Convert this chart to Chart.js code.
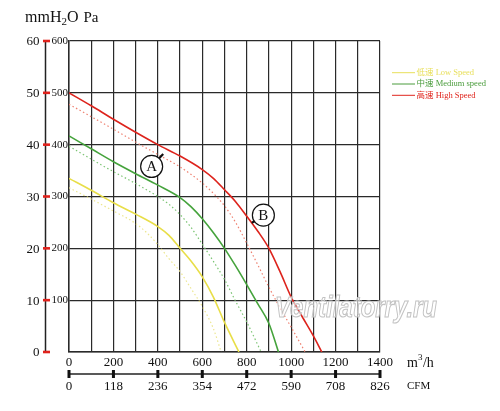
<!DOCTYPE html>
<html>
<head>
<meta charset="utf-8">
<script src="https://cdn.jsdelivr.net/npm/chart.js@4.4.0/dist/chart.umd.min.js"></script>
<style>
body{margin:0;background:#fff;}
#wrap{width:500px;height:411px;position:relative;}
</style>
</head>
<body>
<div id="wrap"><canvas id="chart"></canvas></div>
<script>
// tick labels
var flowTicks = [0, 200, 400, 600, 800, 1000, 1200, 1400];
var cfmTicks = ['0', '118', '236', '354', '472', '590', '708', '826'];
var paTicks = [0, 100, 200, 300, 400, 500, 600];
var paLabels = ['', '100', '200', '300', '400', '500', '600'];
var mmTicks = ['0', '10', '20', '30', '40', '50', '60'];

// high speed
var highFlow = [0, 100, 200, 300, 400, 500, 600, 650, 700, 750, 800, 850, 900, 950, 1000, 1050, 1100, 1138];
var highPa   = [500, 475, 449, 424, 400, 378, 352, 335, 313, 290, 262, 233, 200, 155, 106, 68, 31, 0];
var highDotFlow = [0, 100, 200, 300, 400, 500, 600, 650, 700, 750, 800, 850, 900, 950, 1000, 1063];
var highDotPa   = [478, 454, 430, 405, 381, 357, 326, 306, 282, 250, 210, 168, 125, 85, 48, 0];

// medium speed
var medFlow = [0, 100, 200, 300, 400, 500, 550, 600, 650, 700, 750, 800, 850, 900, 943];
var medPa   = [417, 392, 367, 344, 322, 298, 280, 257, 230, 200, 166, 130, 93, 55, 0];
var medDotFlow = [0, 100, 200, 300, 400, 450, 500, 550, 600, 650, 700, 750, 800, 865];
var medDotPa   = [397, 372, 348, 325, 300, 285, 265, 240, 208, 175, 140, 98, 58, 0];

// low speed
var lowFlow = [0, 100, 200, 300, 400, 450, 500, 550, 600, 650, 700, 765];
var lowPa   = [335, 312, 288, 266, 242, 225, 200, 175, 145, 106, 57, 0];
var lowDotFlow = [0, 100, 200, 300, 350, 400, 450, 500, 550, 600, 650, 685];
var lowDotPa   = [317, 295, 272, 248, 230, 207, 180, 155, 122, 88, 45, 0];

var legendNames = ['低速 Low Speed', '中速 Medium speed', '高速 High Speed'];
var legendColors = ['#e8df5a', '#4a9c3c', '#e0261e'];

var serif = "'Liberation Serif', 'Noto Sans CJK SC', serif";

function pts(xs, ys) {
  var out = [];
  for (var i = 0; i < xs.length; i++) out.push({x: xs[i], y: ys[i]});
  return out;
}

function curve(xs, ys, color, dotted) {
  return {
    data: pts(xs, ys),
    borderColor: color,
    borderWidth: dotted ? 1.2 : 1.6,
    borderDash: dotted ? [1.5, 2.5] : [],
    pointRadius: 0,
    fill: false,
    cubicInterpolationMode: 'monotone'
  };
}

var extras = {
  id: 'extras',
  afterDraw: function (chart) {
    var ctx = chart.ctx;
    var xs = chart.scales.x, ys = chart.scales.y;
    var i, px, py;
    ctx.save();

    // title
    ctx.fillStyle = '#111';
    ctx.textBaseline = 'alphabetic';
    ctx.textAlign = 'left';
    ctx.font = '16px ' + serif;
    var tx = 25;
    ctx.fillText('mmH', tx, 22); tx += ctx.measureText('mmH').width;
    ctx.font = '11px ' + serif;
    ctx.fillText('2', tx, 25); tx += ctx.measureText('2').width;
    ctx.font = '16px ' + serif;
    ctx.fillText('O', tx, 22); tx += ctx.measureText('O ').width + 1;
    ctx.font = '15px ' + serif;
    ctx.fillText('Pa', tx, 22);

    // mmH2O axis
    ctx.strokeStyle = '#222';
    ctx.lineWidth = 1.5;
    ctx.beginPath();
    ctx.moveTo(45.5, ys.getPixelForValue(600));
    ctx.lineTo(45.5, ys.getPixelForValue(0) + 1);
    ctx.stroke();
    ctx.strokeStyle = '#e0221c';
    ctx.lineWidth = 2.6;
    ctx.font = '13px ' + serif;
    ctx.fillStyle = '#111';
    ctx.textAlign = 'right';
    ctx.textBaseline = 'middle';
    for (i = 0; i < paTicks.length; i++) {
      py = ys.getPixelForValue(paTicks[i]);
      ctx.beginPath();
      ctx.moveTo(43, py);
      ctx.lineTo(50, py);
      ctx.stroke();
      ctx.fillText(mmTicks[i], 39.5, py + 1);
    }

    // CFM axis
    var cy = 374;
    ctx.strokeStyle = '#222';
    ctx.lineWidth = 1.5;
    ctx.beginPath();
    ctx.moveTo(xs.getPixelForValue(0) - 1, cy);
    ctx.lineTo(xs.getPixelForValue(1400) + 1, cy);
    ctx.stroke();
    ctx.fillStyle = '#111';
    ctx.textAlign = 'center';
    ctx.textBaseline = 'middle';
    ctx.font = '13px ' + serif;
    for (i = 0; i < flowTicks.length; i++) {
      px = xs.getPixelForValue(flowTicks[i]);
      ctx.fillRect(px - 1.5, cy - 4, 3, 8);
      ctx.fillText(cfmTicks[i], px, cy + 13);
    }

    // unit labels
    ctx.textAlign = 'left';
    ctx.textBaseline = 'alphabetic';
    ctx.font = '14px ' + serif;
    ctx.fillText('m', 407, 367);
    var mw = ctx.measureText('m').width;
    ctx.font = '9px ' + serif;
    ctx.fillText('3', 407 + mw, 360);
    ctx.font = '14px ' + serif;
    ctx.fillText('/h', 407 + mw + 5, 367);
    ctx.font = '11px ' + serif;
    ctx.fillText('CFM', 407, 389);

    // legend
    ctx.font = '8.5px ' + serif;
    ctx.textBaseline = 'middle';
    for (i = 0; i < legendNames.length; i++) {
      py = 72.7 + i * 11.3;
      ctx.strokeStyle = legendColors[i];
      ctx.lineWidth = 1;
      ctx.beginPath();
      ctx.moveTo(392, py);
      ctx.lineTo(415, py);
      ctx.stroke();
      ctx.fillStyle = legendColors[i];
      ctx.fillText(legendNames[i], 416.5, py);
    }

    // markers A and B
    var marks = [
      {label: 'A', x: 372, y: 358, tx: 424, ty: 382},
      {label: 'B', x: 875, y: 264, tx: 823, ty: 249}
    ];
    for (i = 0; i < marks.length; i++) {
      var m = marks[i];
      var mx = xs.getPixelForValue(m.x), my = ys.getPixelForValue(m.y);
      var tpx = xs.getPixelForValue(m.tx), tpy = ys.getPixelForValue(m.ty);
      var ang = Math.atan2(tpy - my, tpx - mx);
      ctx.strokeStyle = '#111';
      ctx.lineWidth = 2.2;
      ctx.beginPath();
      ctx.moveTo(mx + Math.cos(ang) * 10, my + Math.sin(ang) * 10);
      ctx.lineTo(tpx, tpy);
      ctx.stroke();
      ctx.beginPath();
      ctx.arc(mx, my, 11, 0, Math.PI * 2);
      ctx.fillStyle = '#fff';
      ctx.fill();
      ctx.lineWidth = 1.2;
      ctx.stroke();
      ctx.fillStyle = '#111';
      ctx.font = '15px ' + serif;
      ctx.textAlign = 'center';
      ctx.textBaseline = 'middle';
      ctx.fillText(m.label, mx, my + 1);
    }

    // watermark
    ctx.font = 'italic bold 29px "Liberation Sans", sans-serif';
    var ww = ctx.measureText('Ventilatorry.ru').width;
    ctx.translate(275, 317);
    ctx.scale(162 / ww, 1);
    ctx.textAlign = 'left';
    ctx.textBaseline = 'alphabetic';
    ctx.fillStyle = 'rgba(255,255,255,0.6)';
    ctx.fillText('Ventilatorry.ru', 0, 0);
    ctx.strokeStyle = '#c2c2c2';
    ctx.lineWidth = 1.1;
    ctx.strokeText('Ventilatorry.ru', 0, 0);
    ctx.restore();
  }
};

new Chart(document.getElementById('chart'), {
  type: 'line',
  data: {
    datasets: [
      curve(lowDotFlow, lowDotPa, '#ece690', true),
      curve(medDotFlow, medDotPa, '#7cc474', true),
      curve(highDotFlow, highDotPa, '#ee8070', true),
      curve(lowFlow, lowPa, '#e8de48', false),
      curve(medFlow, medPa, '#45a33c', false),
      curve(highFlow, highPa, '#dd231c', false)
    ]
  },
  options: {
    responsive: true,
    maintainAspectRatio: false,
    animation: false,
    layout: {padding: {top: 41, right: 120, bottom: 0, left: 0}},
    plugins: {legend: {display: false}, tooltip: {enabled: false}},
    scales: {
      x: {
        type: 'linear',
        min: 0,
        max: 1400,
        afterFit: function (s) { s.height = 59; },
        grid: {color: '#2a2a2a', lineWidth: 1.2, drawTicks: false},
        border: {color: '#2a2a2a', width: 1.5},
        ticks: {
          stepSize: 100,
          autoSkip: false,
          maxRotation: 0,
          padding: 3,
          color: '#111',
          font: {size: 13, family: serif},
          callback: function (v) { return flowTicks.indexOf(v) >= 0 ? String(v) : ''; }
        }
      },
      y: {
        min: 0,
        max: 600,
        afterFit: function (s) { s.width = 69; },
        grid: {color: '#2a2a2a', lineWidth: 1.2, drawTicks: false},
        border: {color: '#2a2a2a', width: 1.5},
        ticks: {
          stepSize: 100,
          padding: 1,
          color: '#111',
          font: {size: 11, family: serif},
          callback: function (v) {
            var k = paTicks.indexOf(v);
            return k >= 0 ? paLabels[k] : '';
          }
        }
      }
    }
  },
  plugins: [extras]
});
</script>
</body>
</html>
